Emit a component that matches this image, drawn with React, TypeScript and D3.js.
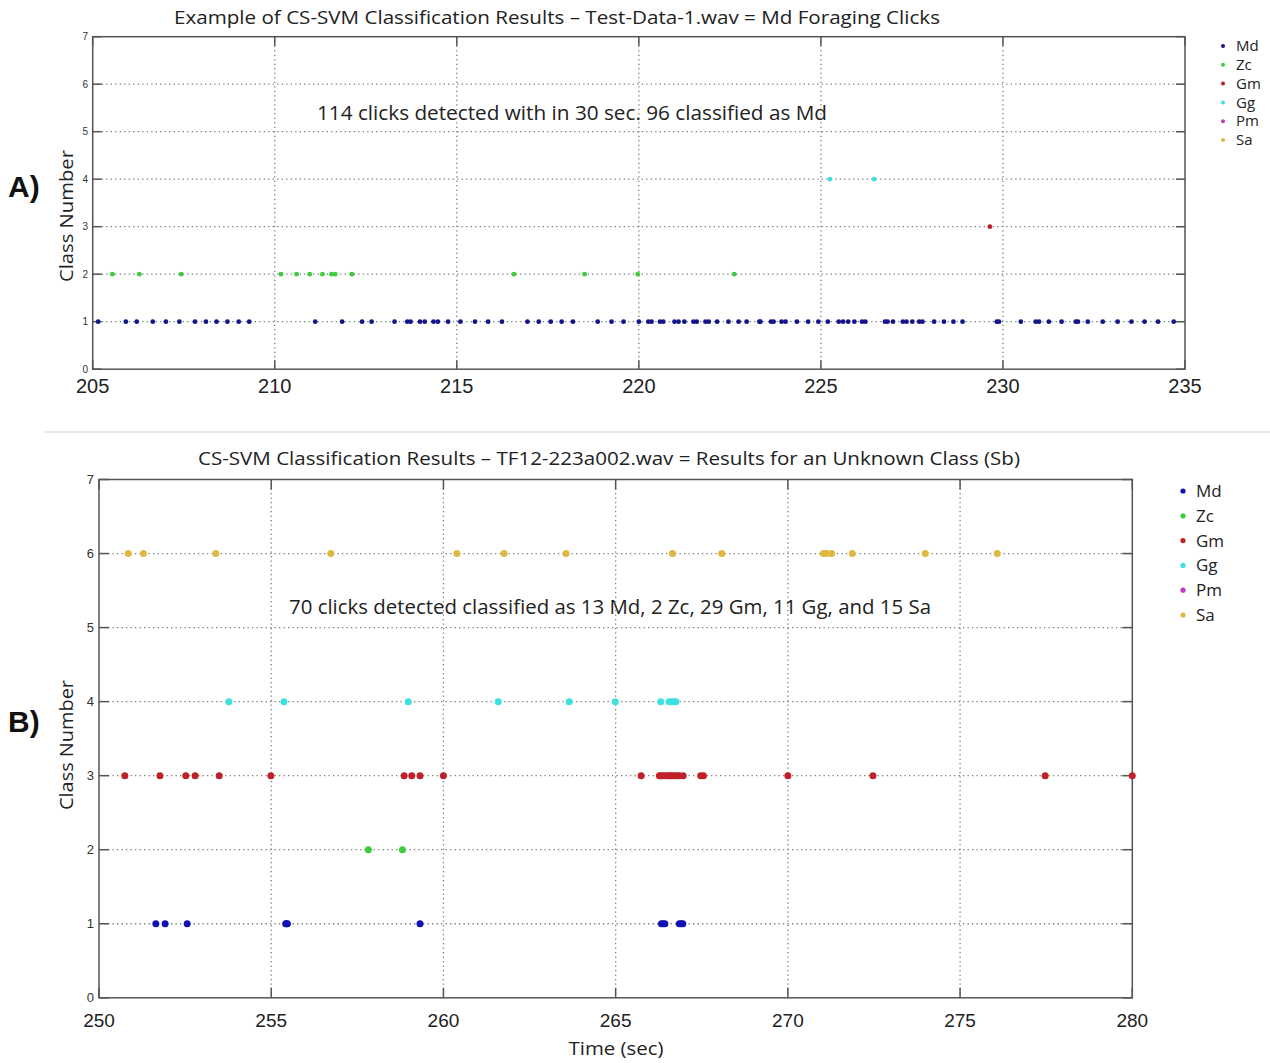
import React from "react";
import * as d3 from "d3";

const classNames = ["Md", "Zc", "Gm", "Gg", "Pm", "Sa"];
const classColors = ["#14148c", "#3ccc3c", "#b81e28", "#3ee0e0", "#c03cc0", "#e0b840"];
const classColorsB = ["#1212b4", "#3ccc3c", "#c0202a", "#3ee0e0", "#c03cc0", "#e0b840"];

// Panel A: Test-Data-1.wav
const aMd = [205.15, 205.91, 206.21, 206.65, 207.01, 207.38, 207.81, 208.11, 208.4, 208.7, 209.01, 209.3,
  211.11, 211.85, 212.4, 212.66, 213.29, 213.64, 213.73, 213.99, 214.12, 214.36, 214.48, 214.76, 215.1,
  215.5, 215.86, 216.24, 216.94, 217.25, 217.58, 217.88, 218.19, 218.87, 219.25, 219.58, 220.0, 220.26,
  220.35, 220.58, 220.67, 220.98, 221.09, 221.25, 221.5, 221.59, 221.83, 221.92, 222.15, 222.46, 222.74,
  222.96, 223.31, 223.34, 223.63, 223.7, 223.92, 224.03, 224.34, 224.65, 224.93, 225.19, 225.49, 225.61,
  225.75, 225.92, 226.13, 226.22, 226.76, 226.83, 226.98, 227.25, 227.35, 227.51, 227.7, 227.79, 228.11,
  228.38, 228.64, 228.89, 229.83, 229.89, 230.49, 230.9, 230.99, 231.26, 231.61, 232.0, 232.06, 232.33,
  232.74, 233.15, 233.53, 233.89, 234.26, 234.69];
const aZc = [205.54, 206.28, 207.43, 210.17, 210.6, 210.96, 211.31, 211.56, 211.66, 212.12, 216.57, 218.51, 219.97, 222.62];
const aGm = [229.64];
const aGg = [225.25, 226.46];
const aPm: number[] = [];
const aSa: number[] = [];

// Panel B: TF12-223a002.wav
const bMd = [251.65, 251.92, 252.56, 255.42, 255.45, 255.47, 259.32, 266.33, 266.38, 266.43, 266.85, 266.9, 266.95];
const bZc = [257.82, 258.81];
const bGm = [250.75, 251.77, 252.52, 252.79, 253.49, 254.99, 258.86, 259.08, 259.32, 260.0, 265.74,
  266.27, 266.31, 266.35, 266.42, 266.49, 266.56, 266.6, 266.64, 266.71, 266.78, 266.85, 266.96,
  267.47, 267.55, 270.0, 272.47, 277.47, 280.0];
const bGg = [253.77, 255.37, 258.98, 261.59, 263.65, 264.99, 266.31, 266.55, 266.62, 266.69, 266.75];
const bPm: number[] = [];
const bSa = [250.85, 251.29, 253.39, 256.73, 260.39, 261.76, 263.56, 266.65, 268.08, 271.03, 271.12, 271.27, 271.87, 273.99, 276.08];

const aXTicks = [205, 210, 215, 220, 225, 230, 235];
const bXTicks = [250, 255, 260, 265, 270, 275, 280];
const yTicks = [0, 1, 2, 3, 4, 5, 6, 7];

const titleA = "Example of CS-SVM Classification Results \u2013 Test-Data-1.wav = Md Foraging Clicks";
const titleB = "CS-SVM Classification Results \u2013 TF12-223a002.wav = Results for an Unknown Class (Sb)";
const noteA = "114 clicks detected with in 30 sec. 96 classified as Md";
const noteB = "70 clicks detected classified as 13 Md, 2 Zc, 29 Gm, 11 Gg, and 15 Sa";

const TXT = "'Open Sans', 'Noto Sans', sans-serif";
const NUM = "'Liberation Sans', Arial, sans-serif";

type PanelProps = {
  x0: number; x1: number; y0: number; y1: number;
  domain: [number, number];
  xTicks: number[];
  series: number[][];
  colors: string[];
  r: number;
  xTickFont: number; xTickY: number;
  yTickFont: number; yTickX: number;
  tickLen: number;
};

function Panel(p: PanelProps) {
  const x = d3.scaleLinear().domain(p.domain).range([p.x0, p.x1]);
  const y = d3.scaleLinear().domain([0, 7]).range([p.y1, p.y0]);
  const axisColor = "#555";
  const gridColor = "#7a7a7a";
  return (
    <g>
      {p.xTicks.slice(1, -1).map((t) => (
        <line key={"gx" + t} x1={x(t)} x2={x(t)} y1={p.y0} y2={p.y1} stroke={gridColor} strokeWidth={1.3} strokeDasharray="1.3,3.2" />
      ))}
      {yTicks.slice(1, -1).map((t) => (
        <line key={"gy" + t} x1={p.x0} x2={p.x1} y1={y(t)} y2={y(t)} stroke={gridColor} strokeWidth={1.3} strokeDasharray="1.3,3.2" />
      ))}
      {p.xTicks.map((t) => (
        <g key={"tx" + t}>
          <line x1={x(t)} x2={x(t)} y1={p.y1} y2={p.y1 - p.tickLen} stroke={axisColor} strokeWidth={1.5} />
          <line x1={x(t)} x2={x(t)} y1={p.y0} y2={p.y0 + p.tickLen} stroke={axisColor} strokeWidth={1.5} />
          <text x={x(t)} y={p.xTickY} textAnchor="middle" fontFamily={NUM} fontSize={p.xTickFont} fill="#222">{t}</text>
        </g>
      ))}
      {yTicks.map((t) => (
        <g key={"ty" + t}>
          <line x1={p.x0} x2={p.x0 + p.tickLen} y1={y(t)} y2={y(t)} stroke={axisColor} strokeWidth={1.5} />
          <line x1={p.x1} x2={p.x1 - p.tickLen} y1={y(t)} y2={y(t)} stroke={axisColor} strokeWidth={1.5} />
          <text x={p.yTickX} y={y(t)} dy="0.35em" textAnchor="end" fontFamily={NUM} fontSize={p.yTickFont} fill="#333">{t}</text>
        </g>
      ))}
      <rect x={p.x0} y={p.y0} width={p.x1 - p.x0} height={p.y1 - p.y0} fill="none" stroke={axisColor} strokeWidth={1.5} />
      {p.series.map((s, ci) =>
        s.map((v, i) => (
          <circle key={ci + "-" + i} cx={x(v)} cy={y(ci + 1)} r={p.r} fill={p.colors[ci]} />
        ))
      )}
    </g>
  );
}

function Legend({ x, y0, step, font, r, colors }: { x: number; y0: number; step: number; font: number; r: number; colors: string[] }) {
  return (
    <g>
      {classNames.map((n, i) => (
        <g key={n}>
          <circle cx={x} cy={y0 + i * step} r={r} fill={colors[i]} />
          <text x={x + 13} y={y0 + i * step} dy="0.35em" fontFamily={TXT} fontSize={font} fill="#222">{n}</text>
        </g>
      ))}
    </g>
  );
}

export default function App() {
  return (
    <svg width={1270} height={1063} style={{ display: "block", margin: 0, position: "absolute", left: 0, top: 0 }} viewBox="0 0 1270 1063">
      <rect width={1270} height={1063} fill="#fff" />
      {/* Panel A */}
      <text x={557} y={24} textAnchor="middle" fontFamily={TXT} fontSize={19} fill="#222" textLength={766} lengthAdjust="spacingAndGlyphs">{titleA}</text>
      <Panel x0={92.7} x1={1185} y0={36.7} y1={369.2} domain={[205, 235]} xTicks={aXTicks}
        series={[aMd, aZc, aGm, aGg, aPm, aSa]} colors={classColors} r={2.4}
        xTickFont={20} xTickY={393} yTickFont={10} yTickX={88} tickLen={9} />
      <text x={572} y={120} textAnchor="middle" fontFamily={TXT} fontSize={20} fill="#222" textLength={510} lengthAdjust="spacingAndGlyphs">{noteA}</text>
      <text transform="translate(73,216) rotate(-90)" textAnchor="middle" fontFamily={TXT} fontSize={19} fill="#222" textLength={132} lengthAdjust="spacingAndGlyphs">Class Number</text>
      <text x={8} y={197} fontFamily={NUM} fontSize={30} fontWeight="bold" fill="#111">A)</text>
      <Legend x={1223} y0={46} step={18.8} font={15} r={2} colors={classColors} />

      <line x1={45} x2={1270} y1={432} y2={432} stroke="#ddd" strokeWidth={1.5} />

      {/* Panel B */}
      <text x={609} y={465} textAnchor="middle" fontFamily={TXT} fontSize={18} fill="#222" textLength={822} lengthAdjust="spacingAndGlyphs">{titleB}</text>
      <Panel x0={99} x1={1132.3} y0={479.5} y1={997.8} domain={[250, 280]} xTicks={bXTicks}
        series={[bMd, bZc, bGm, bGg, bPm, bSa]} colors={classColorsB} r={3.5}
        xTickFont={19} xTickY={1027} yTickFont={13} yTickX={94} tickLen={10} />
      <text x={610} y={614} textAnchor="middle" fontFamily={TXT} fontSize={20} fill="#222" textLength={642} lengthAdjust="spacingAndGlyphs">{noteB}</text>
      <text transform="translate(73,745) rotate(-90)" textAnchor="middle" fontFamily={TXT} fontSize={19} fill="#222" textLength={130} lengthAdjust="spacingAndGlyphs">Class Number</text>
      <text x={616} y={1055} textAnchor="middle" fontFamily={TXT} fontSize={19} fill="#222" textLength={95} lengthAdjust="spacingAndGlyphs">Time (sec)</text>
      <text x={8} y={732} fontFamily={NUM} fontSize={30} fontWeight="bold" fill="#111">B)</text>
      <Legend x={1183} y0={491} step={24.8} font={17} r={2.6} colors={classColorsB} />
    </svg>
  );
}
